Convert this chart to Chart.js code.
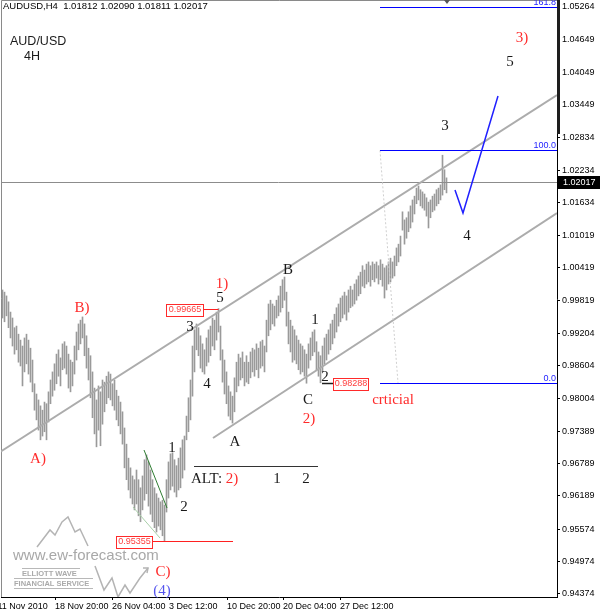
<!DOCTYPE html>
<html>
<head>
<meta charset="utf-8">
<script src="https://cdn.jsdelivr.net/npm/chart.js@4.4.1/dist/chart.umd.min.js"></script>
<style>
  html, body { margin: 0; padding: 0; background: #fff; }
  canvas { display: block; }
</style>
</head>
<body>
<canvas id="audChart" width="600" height="614"></canvas>
<script>
// AUDUSD H4 bars, oldest first (high / low of each bar)
var highs = [
  1.0001, 0.9997, 0.9990, 0.9979, 0.9960, 0.9949, 0.9931, 0.9934, 0.9919, 0.9908,
  0.9897, 0.9912, 0.9919, 0.9908, 0.9893, 0.9871, 0.9827, 0.9808, 0.9797, 0.9786,
  0.9778, 0.9793, 0.9790, 0.9812, 0.9834, 0.9849, 0.9864, 0.9882, 0.9890, 0.9875,
  0.9901, 0.9905, 0.9897, 0.9882, 0.9871, 0.9867, 0.9897, 0.9923, 0.9938, 0.9945,
  0.9951, 0.9938, 0.9916, 0.9893, 0.9879, 0.9849, 0.9819, 0.9797, 0.9823, 0.9812,
  0.9834, 0.9830, 0.9841, 0.9849, 0.9845, 0.9827, 0.9834, 0.9815, 0.9804, 0.9793,
  0.9775, 0.9745, 0.9715, 0.9689, 0.9671, 0.9656, 0.9649, 0.9667, 0.9649, 0.9634,
  0.9656, 0.9686, 0.9695, 0.9682, 0.9667, 0.9649, 0.9634, 0.9623, 0.9615, 0.9608,
  0.9611, 0.9602, 0.9649, 0.9682, 0.9697, 0.9699, 0.9686, 0.9675, 0.9689, 0.9708,
  0.9723, 0.9730, 0.9767, 0.9801, 0.9834, 0.9897, 0.9927, 0.9938, 0.9931, 0.9916,
  0.9901, 0.9890, 0.9912, 0.9927, 0.9934, 0.9949, 0.9945, 0.9960, 0.99665, 0.9934,
  0.9890, 0.9871, 0.9849, 0.9823, 0.9812, 0.9804, 0.9838, 0.9867, 0.9882, 0.9875,
  0.9886, 0.9867, 0.9879, 0.9867, 0.9886, 0.9893, 0.9890, 0.9901, 0.9893, 0.9905,
  0.9908, 0.9897, 0.9945, 0.9975, 0.9982, 0.9975, 0.9971, 0.9982, 0.9990, 1.0008,
  1.0020, 1.0025, 0.9997, 0.9960, 0.9945, 0.9934, 0.9927, 0.9916, 0.9908, 0.9901,
  0.9897, 0.9890, 0.9882, 0.9901, 0.9912, 0.9923, 0.9927, 0.9905, 0.9886, 0.9879,
  0.9897, 0.9912, 0.9919, 0.9927, 0.9938, 0.9945, 0.9956, 0.9968, 0.9975, 0.9986,
  0.9990, 0.9997, 0.9990, 1.0001, 1.0008, 1.0001, 1.0012, 1.0020, 1.0027, 1.0034,
  1.0046, 1.0038, 1.0049, 1.0053, 1.0046, 1.0053, 1.0049, 1.0053, 1.0046, 1.0057,
  1.0049, 1.0042, 1.0046, 1.0053, 1.0060, 1.0053, 1.0064, 1.0079, 1.0086, 1.0101,
  1.0146, 1.0131, 1.0135, 1.0146, 1.0157, 1.0168, 1.0175, 1.0190, 1.0194, 1.0187,
  1.0183, 1.0179, 1.0172, 1.0164, 1.0168, 1.0175, 1.0179, 1.0187, 1.0190, 1.0196,
  1.0251, 1.0224, 1.02090
];
var lows = [
  0.9949, 0.9942, 0.9953, 0.9931, 0.9912, 0.9897, 0.9882, 0.9890, 0.9867, 0.9860,
  0.9823, 0.9849, 0.9864, 0.9845, 0.9830, 0.9812, 0.9778, 0.9760, 0.9741, 0.9723,
  0.9730, 0.9738, 0.9723, 0.9756, 0.9790, 0.9804, 0.9815, 0.9827, 0.9841, 0.9823,
  0.9853, 0.9856, 0.9845, 0.9819, 0.9812, 0.9823, 0.9845, 0.9871, 0.9890, 0.9901,
  0.9912, 0.9879, 0.9856, 0.9834, 0.9801, 0.9764, 0.9734, 0.9710, 0.9741, 0.9712,
  0.9752, 0.9775, 0.9790, 0.9801, 0.9797, 0.9786, 0.9778, 0.9760, 0.9749, 0.9734,
  0.9715, 0.9671, 0.9649, 0.9630, 0.9615, 0.9604, 0.9593, 0.9604, 0.9582, 0.9571,
  0.9593, 0.9611, 0.9623, 0.9600, 0.9585, 0.9571, 0.9560, 0.9552, 0.9563, 0.9556,
  0.9545, 0.95355, 0.9589, 0.9615, 0.9630, 0.9637, 0.9626, 0.9617, 0.9630, 0.9634,
  0.9652, 0.9667, 0.9723, 0.9738, 0.9760, 0.9804, 0.9849, 0.9890, 0.9879, 0.9856,
  0.9849, 0.9845, 0.9860, 0.9867, 0.9879, 0.9897, 0.9890, 0.9908, 0.9923, 0.9871,
  0.9830, 0.9808, 0.9790, 0.9767, 0.9760, 0.9754, 0.9775, 0.9812, 0.9823, 0.9834,
  0.9838, 0.9823, 0.9830, 0.9827, 0.9838, 0.9849, 0.9841, 0.9853, 0.9838, 0.9856,
  0.9860, 0.9849, 0.9886, 0.9916, 0.9927, 0.9938, 0.9934, 0.9949, 0.9953, 0.9960,
  0.9968, 0.9982, 0.9934, 0.9901, 0.9886, 0.9867, 0.9871, 0.9864, 0.9853, 0.9845,
  0.9849, 0.9841, 0.9828, 0.9856, 0.9871, 0.9879, 0.9886, 0.9853, 0.9841, 0.98288,
  0.9849, 0.9864, 0.9871, 0.9882, 0.9890, 0.9901, 0.9912, 0.9923, 0.9934, 0.9942,
  0.9949, 0.9956, 0.9945, 0.9960, 0.9968, 0.9971, 0.9975, 0.9982, 0.9990, 0.9994,
  1.0008, 1.0005, 1.0012, 1.0016, 1.0008, 1.0020, 1.0016, 1.0023, 1.0012, 1.0020,
  1.0008, 0.9986, 1.0001, 1.0012, 1.0016, 1.0023, 1.0027, 1.0046, 1.0053, 1.0064,
  1.0112, 1.0086, 1.0097, 1.0109, 1.0116, 1.0127, 1.0142, 1.0161, 1.0168, 1.0157,
  1.0153, 1.0149, 1.0138, 1.0116, 1.0135, 1.0146, 1.0149, 1.0157, 1.0161, 1.0168,
  1.0177, 1.0187, 1.01811
];
var lastQuote = [1.01812, 1.02090, 1.01811, 1.02017]; // open high low close

var yTickValues = [1.05264, 1.04649, 1.04049, 1.03449, 1.02834, 1.02234, 1.01634, 1.01019,
  1.00419, 0.99819, 0.99204, 0.98604, 0.98004, 0.97389, 0.96789, 0.96189, 0.95574, 0.94974, 0.94374];
var xTickIdx = [-2.5, 26.25, 54.75, 83.25, 112.25, 140.25, 168.75];
var xTickLabels = ['11 Nov 2010', '18 Nov 20:00', '26 Nov 04:00', '3 Dec 12:00',
  '10 Dec 20:00', '20 Dec 04:00', '27 Dec 12:00'];

// fibonacci projection from the 0.95355 -> 0.99665 leg, anchored at 0.98288
var fibLevels = [0.98288, 1.02598, 1.05262];
var fibNames = ['0.0', '100.0', '161.8'];
var markedPrices = [0.95355, 0.99665, 0.98288];

// trend lines as [barIndex, price] pairs
var upperChannel = [[-1.25, 0.97004], [277.25, 1.03627]];
var lowerChannel = [[105.25, 0.97264], [277.25, 1.01438]];
var projection = [[226.25, 1.01865], [230.25, 1.01438], [247.75, 1.03609]];

var bars = highs.map(function (h, i) { return { x: i, y: [lows[i], h] }; });

var serif = '"Liberation Serif", "Times New Roman", serif';
var sans = '"Liberation Sans", Arial, sans-serif';

var ewPlugin = {
  id: 'ewAnno',
  afterDraw: function (chart) {
    var ctx = chart.ctx, xs = chart.scales.x, ys = chart.scales.y, a = chart.chartArea;
    function X(i) { return xs.getPixelForValue(i); }
    function Y(p) { return ys.getPixelForValue(p); }
    function line(pts, color, w, dash) {
      ctx.beginPath();
      ctx.strokeStyle = color;
      ctx.lineWidth = w;
      ctx.setLineDash(dash || []);
      pts.forEach(function (p, k) { if (k === 0) ctx.moveTo(p[0], p[1]); else ctx.lineTo(p[0], p[1]); });
      ctx.stroke();
      ctx.setLineDash([]);
    }
    function txt(s, x, y, color, font, align) {
      ctx.fillStyle = color;
      ctx.font = font;
      ctx.textAlign = align || 'center';
      ctx.textBaseline = 'middle';
      ctx.fillText(s, x, y);
    }
    function priceBox(s, left, cy, w) {
      ctx.fillStyle = '#fff';
      ctx.fillRect(left, cy - 6, w, 12);
      ctx.strokeStyle = '#ff2a2a';
      ctx.lineWidth = 1;
      ctx.strokeRect(left + 0.5, Math.round(cy - 6) + 0.5, w, 12);
      txt(s, left + w / 2 + 0.5, cy + 0.5, '#ff3b3b', '9px ' + sans);
    }

    ctx.save();
    // frame
    line([[1.5, a.bottom], [1.5, 0.5], [a.right, 0.5]], '#8a8a8a', 1);

    ctx.save();
    ctx.beginPath();
    ctx.rect(a.left, 0, a.right - a.left, a.bottom);
    ctx.clip();

    // current price line
    var cy = Math.round(Y(lastQuote[3])) + 0.5;
    line([[0, cy], [a.right, cy]], '#8c8c8c', 1);

    // channel
    line(upperChannel.map(function (p) { return [X(p[0]), Y(p[1])]; }), '#acacac', 2);
    line(lowerChannel.map(function (p) { return [X(p[0]), Y(p[1])]; }), '#acacac', 2);

    // fibonacci tool
    var fx = X(188.75);
    line([[fx, Y(fibLevels[1])], [X(197.75), Y(fibLevels[0])]], '#cfcfcf', 1, [2, 2]);
    fibLevels.forEach(function (lv, k) {
      var ly = Math.round(Y(lv)) + 0.5;
      line([[fx, ly], [a.right, ly]], '#0000ff', 1);
      txt(fibNames[k], a.right - 1, ly - 5, '#2424ff', '9px ' + sans, 'right');
    });

    // projected path
    line(projection.map(function (p) { return [X(p[0]), Y(p[1])]; }), '#2020ff', 1.5);

    // wedge lines
    line([[144, 450], [167, 508]], '#2f7d32', 1);
    line([[133, 507], [160, 538]], '#a9cfa9', 1);

    // marked prices
    var ly1 = Math.round(Y(markedPrices[0])) + 0.5;
    line([[X(74.75), ly1], [X(115.25), ly1]], '#ff2020', 1);
    priceBox('0.95355', X(74.75) - 36, ly1, 36);
    var ly2 = Math.round(Y(markedPrices[1])) + 0.5;
    line([[X(100.25), ly2], [X(108), ly2]], '#ff2020', 1);
    priceBox('0.99665', X(100.25) - 37, ly2, 37);
    var ly3 = Math.round(Y(markedPrices[2])) + 0.5;
    line([[X(159.75), ly3], [X(165.25), ly3]], '#202020', 1.5);
    priceBox('0.98288', X(165.25), ly3, 35);

    // alternate count separator
    line([[194, 466.5], [318, 466.5]], '#333', 1);

    // logo
    line([[37, 547], [50, 530], [55, 535], [62, 522], [68, 517], [75, 532], [80, 529], [88, 546]], '#b4b4b4', 1.5);
    line([[95, 566], [104, 590], [112, 578], [118, 597], [125, 585], [130, 593], [140, 578], [148, 568]], '#b4b4b4', 1.5);
    line([[143, 568], [148, 568], [147, 573]], '#b4b4b4', 1.5);
    txt('www.ew-forecast.com', 13, 556, '#a8a8a8', '15px ' + sans, 'left');
    line([[22, 568.5], [80, 568.5]], '#b8b8b8', 1);
    txt('ELLIOTT WAVE', 22, 573.5, '#aaaaaa', 'bold 7.5px ' + sans, 'left');
    line([[14, 578.5], [93, 578.5]], '#b8b8b8', 1);
    txt('FINANCIAL SERVICE', 14, 583.5, '#aaaaaa', 'bold 7.5px ' + sans, 'left');
    line([[14, 588.5], [93, 588.5]], '#b8b8b8', 1);
    ctx.restore();

    // wave labels
    var red = '#ff2b2b', blk = '#1a1a1a', f = '15px ' + serif;
    txt('A)', 38, 459, red, f);
    txt('B)', 82, 308, red, f);
    txt('1)', 222, 284, red, f);
    txt('5', 220, 298, blk, f);
    txt('3', 190, 327, blk, f);
    txt('4', 207, 384, blk, f);
    txt('1', 172, 448, blk, f);
    txt('2', 184, 507, blk, f);
    txt('A', 235, 442, blk, f);
    txt('B', 288, 270, blk, f);
    txt('1', 315, 320, blk, f);
    txt('C', 308, 400, blk, f);
    txt('2)', 309, 419, red, f);
    txt('2', 325, 377, blk, f);
    txt('crticial', 393, 400, red, f);
    txt('ALT:', 191, 479, blk, f, 'left');
    txt('2)', 232, 479, red, f);
    txt('1', 277, 479, blk, f);
    txt('2', 306, 479, blk, f);
    txt('3', 445, 126, blk, f);
    txt('4', 467, 236, blk, f);
    txt('5', 510, 62, blk, f);
    txt('3)', 522, 38, red, f);
    txt('C)', 163, 572, red, f);
    txt('(4)', 162, 591, '#5555ee', f);

    // titles
    txt('AUDUSD,H4  ' + lastQuote.map(function (v) { return v.toFixed(5); }).join(' '), 3, 6, '#000', '9.5px ' + sans, 'left');
    txt('AUD/USD', 10, 42, '#1a1a1a', '12.5px ' + sans, 'left');
    txt('4H', 24, 57, '#1a1a1a', '12.5px ' + sans, 'left');

    // chart shift marker and axis bar
    ctx.fillStyle = '#555';
    ctx.beginPath(); ctx.moveTo(444, 0); ctx.lineTo(450, 0); ctx.lineTo(447, 4); ctx.fill();
    ctx.fillStyle = '#1e1e1e';
    ctx.fillRect(a.right, 0, 3, 134);

    // current price tag
    ctx.fillStyle = '#000';
    ctx.fillRect(a.right + 1, cy - 6.5, 43, 13);
    txt(lastQuote[3].toFixed(5), a.right + 6, cy, '#fff', '9px ' + sans, 'left');
    ctx.restore();
  }
};

new Chart(document.getElementById('audChart'), {
  type: 'bar',
  data: {
    datasets: [{
      data: bars,
      backgroundColor: '#9a9a9a',
      borderWidth: 0,
      barThickness: 1,
      grouped: false
    }]
  },
  options: {
    responsive: false,
    animation: false,
    devicePixelRatio: 1,
    layout: { padding: { top: 1, left: 1, right: 0, bottom: 0 } },
    plugins: { legend: { display: false }, tooltip: { enabled: false } },
    scales: {
      x: {
        type: 'linear',
        offset: false,
        min: -0.75,
        max: 277.25,
        afterBuildTicks: function (s) { s.ticks = xTickIdx.map(function (v) { return { value: v }; }); },
        afterFit: function (s) { s.height = 17; s.paddingLeft = 0; s.paddingRight = 0; },
        ticks: {
          autoSkip: false, maxRotation: 0, align: 'start', padding: 1, color: '#000',
          font: { family: 'Liberation Sans', size: 9 },
          callback: function (v, i) { return xTickLabels[i]; }
        },
        grid: { offset: false, drawOnChartArea: false, tickLength: 3, color: '#000' },
        border: { color: '#000' }
      },
      y: {
        position: 'right',
        min: 0.94314,
        max: 1.05371,
        afterBuildTicks: function (s) { s.ticks = yTickValues.map(function (v) { return { value: v }; }); },
        afterFit: function (s) { s.width = 43; s.paddingTop = 0; s.paddingBottom = 0; },
        ticks: {
          padding: 2, color: '#000',
          font: { family: 'Liberation Sans', size: 9 },
          callback: function (v) { return v.toFixed(5); }
        },
        grid: { drawOnChartArea: false, tickLength: 3, color: '#000' },
        border: { color: '#000' }
      }
    }
  },
  plugins: [ewPlugin]
});
</script>
</body>
</html>
